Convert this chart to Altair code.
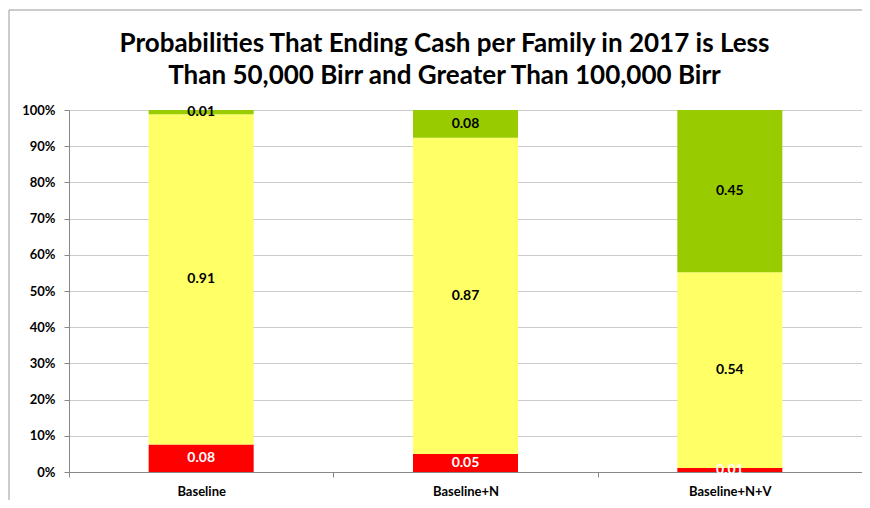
import altair as alt
import pandas as pd

categories = ["Baseline", "Baseline+N", "Baseline+N+V"]
less_50k = [0.076, 0.05, 0.011]
middle = [0.912, 0.873, 0.541]
greater_100k = [0.012, 0.077, 0.448]

series = ["< 50,000 Birr", "50,000 - 100,000 Birr", "> 100,000 Birr"]
colors = ["#FF0000", "#FFFF66", "#99CC00"]
text_colors = ["#FFFFFF", "#000000", "#000000"]
y_ticks = [0.0, 0.1, 0.2, 0.3, 0.4, 0.5, 0.6, 0.7, 0.8, 0.9, 1.0]

rows = []
for i, c in enumerate(categories):
    for j, (s, v) in enumerate(zip(series, [less_50k[i], middle[i], greater_100k[i]])):
        rows.append({"cat": c, "series": s, "value": v, "ord": j, "tcol": text_colors[j]})
df = pd.DataFrame(rows)

FONT = "Lato"

base = alt.Chart(df)

xscale = alt.Scale(paddingInner=0, paddingOuter=0)
yscale = alt.Scale(domain=[0, 1], nice=False)

xaxis = alt.Axis(labelAngle=0, tickBand="extent", labelFont=FONT, labelFontWeight="bold",
                 labelFontSize=13, labelColor="#000", labelPadding=8, tickSize=5,
                 domainColor="#888", tickColor="#888", grid=False)
yaxis = alt.Axis(format="%", values=y_ticks, labelFont=FONT,
                 labelFontWeight="bold", labelFontSize=13, labelColor="#000",
                 labelOverlap=False, labelPadding=9, tickSize=5, domainColor="#888",
                 tickColor="#888", gridColor="#CCCCCC")

bars = base.mark_bar(width=105).encode(
    x=alt.X("cat:N", sort=categories, title=None, scale=xscale, axis=xaxis),
    y=alt.Y("value:Q", stack="zero", scale=yscale, title=None, axis=yaxis),
    color=alt.Color("series:N", sort=series, scale=alt.Scale(domain=series, range=colors), legend=None),
    order=alt.Order("ord:Q"),
)

labels = base.transform_stack(
    stack="value", groupby=["cat"], as_=["y0", "y1"], sort=[alt.SortField("ord")]
).transform_calculate(
    mid="(datum.y0 + datum.y1) / 2"
).mark_text(font=FONT, fontWeight="bold", fontSize=14, baseline="middle").encode(
    x=alt.X("cat:N", sort=categories, scale=xscale, title=None, axis=xaxis),
    y=alt.Y("mid:Q", scale=yscale, title=None, axis=yaxis),
    text=alt.Text("value:Q", format=".2f"),
    color=alt.Color("tcol:N", scale=None),
)

frame = alt.Chart(pd.DataFrame({"a": [0]})).mark_rect(
    fill=None, stroke="#999", strokeWidth=1, clip=False
).encode(x=alt.value(-60), x2=alt.value(806), y=alt.value(-100), y2=alt.value(420))

chart = alt.layer(frame, bars, labels).properties(
    width=793, height=362,
    autosize=alt.AutoSizeParams(type="none"),
    padding={"left": 61, "top": 102, "right": 0, "bottom": 28},
    title=alt.Title(
        ["Probabilities That Ending Cash per Family in 2017 is Less",
         "Than 50,000 Birr and Greater Than 100,000 Birr"],
        font=FONT, fontSize=26, fontWeight="bold", color="#000", anchor="middle",
        dx=-21, offset=-79, lineHeight=32,
    ),
).configure_view(stroke=None)

chart.save("out.html", embed_options={"renderer": "svg", "actions": False})
